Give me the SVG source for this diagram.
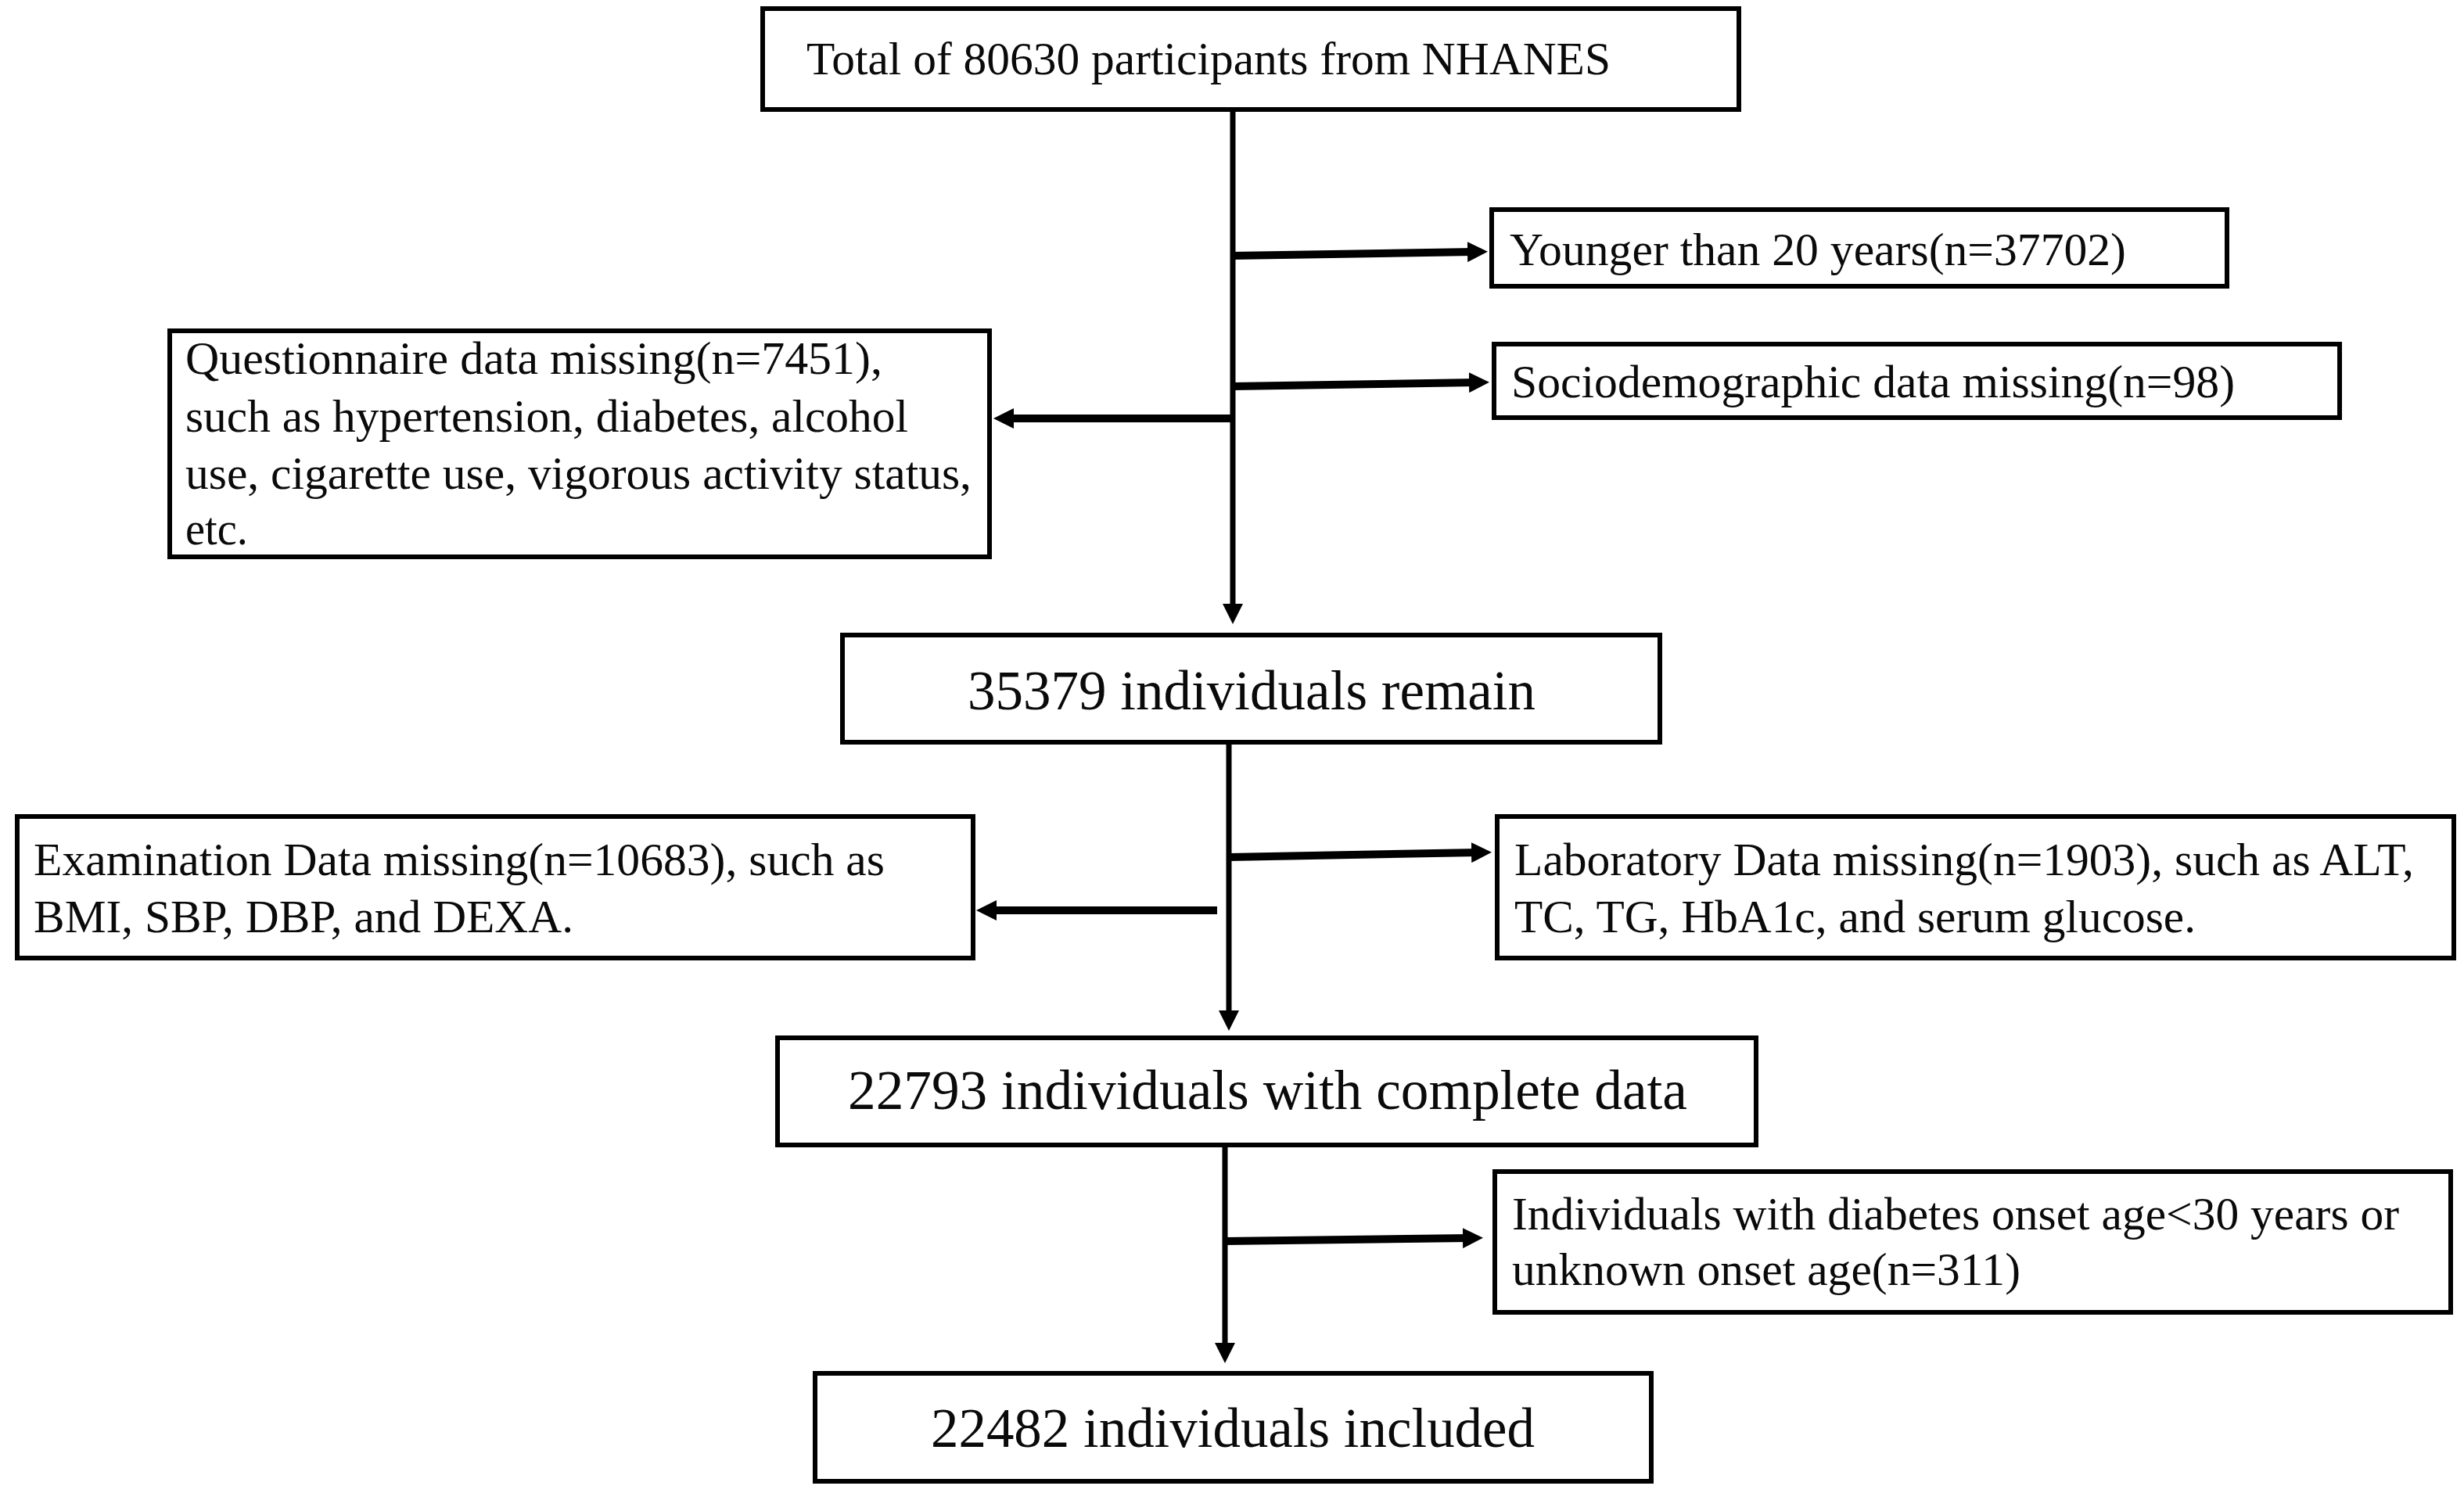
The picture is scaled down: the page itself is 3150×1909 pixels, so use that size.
<svg xmlns="http://www.w3.org/2000/svg" width="3150" height="1909" viewBox="0 0 3150 1909">
<style>
  .box { fill: #ffffff; stroke: #000000; stroke-width: 6; }
  .t { font-family: "Liberation Serif", "Times New Roman", serif; font-size: 60px; fill: #0a0a0a; }
  .tl { font-family: "Liberation Serif", "Times New Roman", serif; font-size: 71px; fill: #0a0a0a; }
  .v { stroke: #000000; stroke-width: 7; fill: none; }
  .h { stroke: #000000; stroke-width: 10; fill: none; }
</style>
<defs>
  <marker id="ah" viewBox="0 0 26 26" markerUnits="userSpaceOnUse" markerWidth="26" markerHeight="26" refX="8" refY="13" orient="auto">
    <path d="M0,0 L26,13 L0,26 z" fill="#000000"/>
  </marker>
</defs>
<rect width="3150" height="1909" fill="#ffffff"/>

<g id="connectors">
  <line class="v" x1="1576" y1="143" x2="1576" y2="780" marker-end="url(#ah)"/>
  <line class="h" x1="1576" y1="327" x2="1884" y2="322" marker-end="url(#ah)"/>
  <line class="h" x1="1576" y1="494" x2="1886" y2="489" marker-end="url(#ah)"/>
  <line class="h" x1="1576" y1="535" x2="1288" y2="535" marker-end="url(#ah)"/>
  <line class="v" x1="1571" y1="952" x2="1571" y2="1300" marker-end="url(#ah)"/>
  <line class="h" x1="1571" y1="1096" x2="1889" y2="1090" marker-end="url(#ah)"/>
  <line class="h" x1="1556" y1="1164" x2="1266" y2="1164" marker-end="url(#ah)"/>
  <line class="v" x1="1566" y1="1467" x2="1566" y2="1725" marker-end="url(#ah)"/>
  <line class="h" x1="1566" y1="1587" x2="1878" y2="1583" marker-end="url(#ah)"/>
</g>

<g id="n-total">
  <rect class="box" x="975" y="11" width="1248" height="129"/>
  <text class="t" x="1031" y="95" textLength="1028" lengthAdjust="spacingAndGlyphs">Total of 80630 participants from NHANES</text>
</g>

<g id="n-younger">
  <rect class="box" x="1907" y="268" width="940" height="98"/>
  <text class="t" x="1930" y="339" textLength="788" lengthAdjust="spacingAndGlyphs">Younger than 20 years(n=37702)</text>
</g>

<g id="n-socio">
  <rect class="box" x="1910" y="440" width="1081" height="94"/>
  <text class="t" x="1932" y="508" textLength="925" lengthAdjust="spacingAndGlyphs">Sociodemographic data missing(n=98)</text>
</g>

<g id="n-questionnaire">
  <rect class="box" x="217" y="423" width="1048" height="289"/>
  <text class="t" x="237" y="478" textLength="891" lengthAdjust="spacingAndGlyphs">Questionnaire data missing(n=7451),</text>
  <text class="t" x="237" y="552" textLength="924" lengthAdjust="spacingAndGlyphs">such as hypertension, diabetes, alcohol</text>
  <text class="t" x="237" y="625" textLength="1005" lengthAdjust="spacingAndGlyphs">use, cigarette use, vigorous activity status,</text>
  <text class="t" x="237" y="696" textLength="80" lengthAdjust="spacingAndGlyphs">etc.</text>
</g>

<g id="n-remain">
  <rect class="box" x="1077" y="812" width="1045" height="137"/>
  <text class="tl" x="1237" y="907" textLength="726" lengthAdjust="spacingAndGlyphs">35379 individuals remain</text>
</g>

<g id="n-exam">
  <rect class="box" x="22" y="1044" width="1222" height="181"/>
  <text class="t" x="43" y="1119" textLength="1088" lengthAdjust="spacingAndGlyphs">Examination Data missing(n=10683), such as</text>
  <text class="t" x="43" y="1192" textLength="690" lengthAdjust="spacingAndGlyphs">BMI, SBP, DBP, and DEXA.</text>
</g>

<g id="n-lab">
  <rect class="box" x="1914" y="1044" width="1223" height="181"/>
  <text class="t" x="1936" y="1119" textLength="1150" lengthAdjust="spacingAndGlyphs">Laboratory Data missing(n=1903), such as ALT,</text>
  <text class="t" x="1936" y="1192" textLength="871" lengthAdjust="spacingAndGlyphs">TC, TG, HbA1c, and serum glucose.</text>
</g>

<g id="n-complete">
  <rect class="box" x="994" y="1327" width="1251" height="137"/>
  <text class="tl" x="1084" y="1418" textLength="1073" lengthAdjust="spacingAndGlyphs">22793 individuals with complete data</text>
</g>

<g id="n-onset">
  <rect class="box" x="1911" y="1498" width="1222" height="180"/>
  <text class="t" x="1933" y="1572" textLength="1134" lengthAdjust="spacingAndGlyphs">Individuals with diabetes onset age&lt;30 years or</text>
  <text class="t" x="1933" y="1643" textLength="650" lengthAdjust="spacingAndGlyphs">unknown onset age(n=311)</text>
</g>

<g id="n-included">
  <rect class="box" x="1042" y="1756" width="1069" height="138"/>
  <text class="tl" x="1190" y="1850" textLength="772" lengthAdjust="spacingAndGlyphs">22482 individuals included</text>
</g>
</svg>
